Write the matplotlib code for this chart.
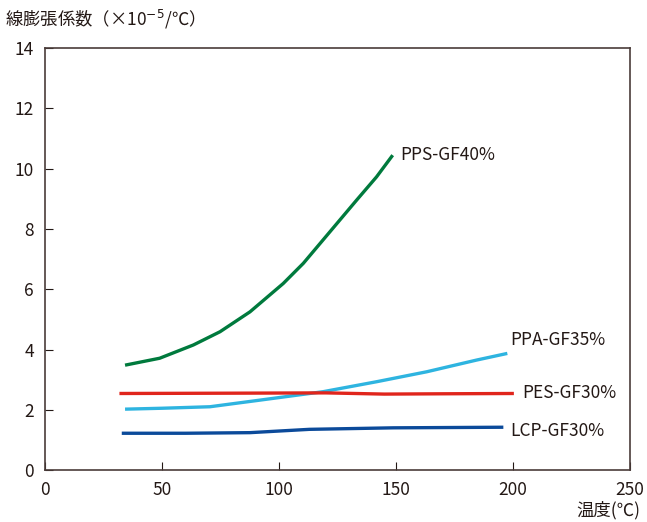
import matplotlib.pyplot as plt

plt.rcParams["font.family"] = ["Noto Sans CJK JP", "DejaVu Sans"]

# 線膨張係数 (x10^-5/℃) vs 温度 (℃)
pps_x = [34.2, 49, 63.4, 74.8, 87.6, 101.8, 110.4, 121.8, 133.2, 141.7, 148.6]
pps_y = [3.48, 3.71, 4.15, 4.59, 5.25, 6.19, 6.86, 7.91, 8.96, 9.73, 10.45]
ppa_x = [34.2, 50, 70.5, 91.9, 118.9, 141.7, 163.1, 184.5, 197.6]
ppa_y = [2.02, 2.05, 2.1, 2.32, 2.6, 2.93, 3.26, 3.65, 3.87]
pes_x = [31.8, 80, 120, 145, 170, 200.4]
pes_y = [2.54, 2.55, 2.56, 2.52, 2.53, 2.54]
lcp_x = [32.8, 60, 87.6, 113, 148.8, 195.9]
lcp_y = [1.22, 1.22, 1.24, 1.35, 1.4, 1.42]

series = [
  ("PPS-GF40%", pps_x, pps_y, "#007a3d", (152, 10.45)),
  ("PPA-GF35%", ppa_x, ppa_y, "#2eb4e0", (199, 4.3)),
  ("PES-GF30%", pes_x, pes_y, "#e0251c", (204, 2.55)),
  ("LCP-GF30%", lcp_x, lcp_y, "#0b4a9a", (199, 1.3)),
]

fig = plt.figure(figsize=(6.47, 5.22), dpi=100)
ax = fig.add_axes([0.0696, 0.0996, 0.904, 0.808])

for name, xs, ys, color, (tx, ty) in series:
  ax.plot(xs, ys, color=color, lw=2.4, solid_capstyle="butt")
  ax.text(tx, ty, name, fontsize=12.5, color="#231815", va="center",
          ha="left")

ax.set_xlim(0, 250)
ax.set_ylim(0, 14)
ax.set_xticks(range(0, 251, 50))
ax.set_yticks(range(0, 15, 2))
ax.tick_params(direction="in", length=6, labelsize=12.5, colors="#231815",
               pad=8)
for s in ax.spines.values():
  s.set_color("#4a3c3a")
  s.set_linewidth(1.2)

fig.text(0.008, 0.962, "線膨張係数（×10$^{-5}$/℃）", fontsize=12.5,
         color="#231815", va="center")
fig.text(0.99, 0.004, "温度(℃)", fontsize=12.5, color="#231815",
         ha="right", va="bottom")

fig.savefig("out.png", dpi=100)
